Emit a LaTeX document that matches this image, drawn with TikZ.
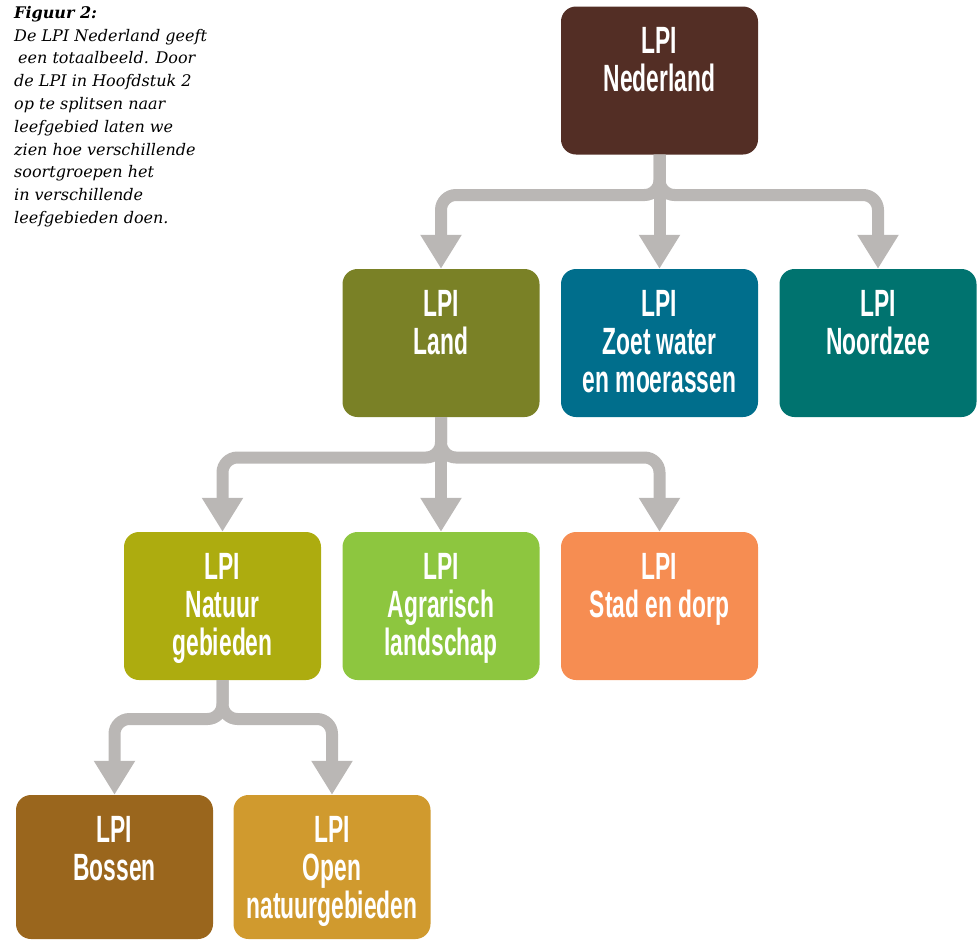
\documentclass[tikz,border=0pt]{standalone}
\usepackage{fontspec}
\usetikzlibrary{arrows.meta}
\newfontfamily\boxfont[FakeStretch=0.6]{Liberation Sans}
\newfontfamily\capfont{DejaVu Serif}
\definecolor{cNed}{HTML}{532E25}
\definecolor{cLand}{HTML}{7A8126}
\definecolor{cZoet}{HTML}{006E8C}
\definecolor{cNoord}{HTML}{00736F}
\definecolor{cNat}{HTML}{ADAC0F}
\definecolor{cAgr}{HTML}{8DC63F}
\definecolor{cStad}{HTML}{F68D52}
\definecolor{cBos}{HTML}{9A661D}
\definecolor{cOpen}{HTML}{D09A2E}
\definecolor{cArrow}{HTML}{BAB7B5}
\newcommand{\bx}[2][148pt]{\parbox[c][#1][t]{197pt}{\centering\bfseries\fontsize{38}{38}\selectfont\rule{0pt}{47pt}#2\par}}
\tikzset{
  lpibox/.style={rounded corners=15pt, inner sep=0pt, text=white, font=\boxfont},
  conn/.style={draw=cArrow, line width=12pt, rounded corners=15pt,
    -{Triangle[width=39pt,length=34pt]}},
}
\begin{document}
\begin{tikzpicture}[x=1pt,y=-1pt]
\useasboundingbox (0,0) rectangle (978,940);
% caption
\node[anchor=north west, inner sep=0pt, align=left, font=\capfont\itshape\fontsize{16}{22.8}\selectfont] (cap) at (14,6)
{\textbf{Figuur 2:}\\
De LPI Nederland geeft\\
\hspace{4pt}een totaalbeeld. Door\\
de LPI in Hoofdstuk 2\\
op te splitsen naar\\
leefgebied laten we\\
zien hoe verschillende\\
soortgroepen het\\
in verschillende\\
leefgebieden doen.};
% boxes
\node[lpibox, fill=cNed]   (ned)   at (659.5,80.5) {\bx{LPI\\Nederland}};
\node[lpibox, fill=cLand]  (land)  at (441,343)    {\bx{LPI\\Land}};
\node[lpibox, fill=cZoet]  (zoet)  at (659.5,343)  {\bx{LPI\\Zoet water\\en moerassen}};
\node[lpibox, fill=cNoord] (noord) at (878,343)    {\bx{LPI\\Noordzee}};
\node[lpibox, fill=cNat]   (nat)   at (222.5,606)  {\bx{LPI\\Natuur\\gebieden}};
\node[lpibox, fill=cAgr]   (agr)   at (441,606)    {\bx{LPI\\Agrarisch\\landschap}};
\node[lpibox, fill=cStad]  (stad)  at (659.5,606)  {\bx{LPI\\Stad en dorp}};
\node[lpibox, fill=cBos]   (bos)   at (114.5,867)  {\bx[144pt]{LPI\\Bossen}};
\node[lpibox, fill=cOpen]  (open)  at (332,867)    {\bx[144pt]{LPI\\Open\\natuurgebieden}};
% connectors
\coordinate (b1) at (659.5,195);
\coordinate (b2) at (441,457.5);
\coordinate (b3) at (222.5,719);
\draw[conn] (ned.south) -- (b1) -- (b1 -| land.north) -- (land.north);
\draw[conn] (ned.south) -- (b1) -- (b1 -| noord.north) -- (noord.north);
\draw[conn] (ned.south) -- (zoet.north);
\draw[conn] (land.south) -- (b2) -- (b2 -| nat.north) -- (nat.north);
\draw[conn] (land.south) -- (b2) -- (b2 -| stad.north) -- (stad.north);
\draw[conn] (land.south) -- (agr.north);
\draw[conn] (nat.south) -- (b3) -- (b3 -| bos.north) -- (bos.north);
\draw[conn] (nat.south) -- (b3) -- (b3 -| open.north) -- (open.north);
\end{tikzpicture}
\end{document}
